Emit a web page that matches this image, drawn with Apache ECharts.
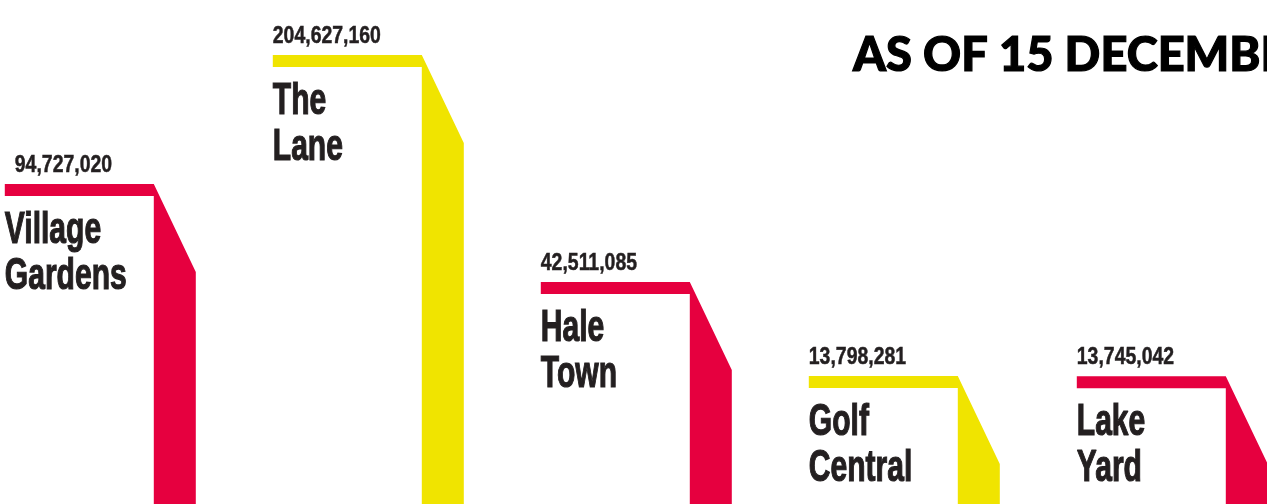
<!DOCTYPE html>
<html>
<head>
<meta charset="utf-8">
<script src="https://cdn.jsdelivr.net/npm/echarts@6/dist/echarts.min.js"></script>
<style>
html,body{margin:0;padding:0;background:#fff;}
#chart{width:1267px;height:504px;}
</style>
</head>
<body>
<div id="chart"></div>
<script>
// ---- data ----
const categories = ['Village Gardens', 'The Lane', 'Hale Town', 'Golf Central', 'Lake Yard'];
const values = [94727020, 204627160, 42511085, 13798281, 13745042];
const titleText = 'AS OF 15 DECEMBER';

// ---- style ----
const palette = ['#e6003f', '#f0e400'];
const textColor = '#231f20';
const FONT = '"Liberation Sans", Arial, sans-serif';
const EXP = 0.4; // power scale exponent used for bar heights

const chart = echarts.init(document.getElementById('chart'), null, {renderer: 'canvas'});

function fmt(v) { return v.toLocaleString('en-US'); }

const option = {
  backgroundColor: '#ffffff',
  animation: false,
  title: {
    text: titleText,
    left: 848,
    top: 27,
    textStyle: {fontFamily: 'Lato', fontWeight: 900, fontSize: 47, color: '#000000',
      textBorderColor: '#000000', textBorderWidth: 1.2}
  },
  grid: {left: 153.8, right: 41.2, top: 0, bottom: 0},
  xAxis: {type: 'category', data: categories, boundaryGap: false, show: false},
  yAxis: {type: 'value', min: 0.646, max: 9.352, show: false},
  series: [{
    type: 'custom',
    clip: false,
    data: values.map((v, i) => [i, Math.pow(v / 1e6, EXP), v]),
    encode: {x: 0, y: 1},
    renderItem: function (params, api) {
      const i = api.value(0);
      const v = api.value(2);
      const pt = api.coord([i, api.value(1)]);
      const bx = pt[0], top = pt[1];
      const cs = params.coordSys;
      const bottom = cs.y + cs.height + 20;
      const stripLen = 149, stripH = 12, bandW = 42, slant = 88;
      const color = palette[i % 2];
      const left = bx - stripLen;
      const children = [{
        type: 'polygon',
        shape: {points: [
          [left, top], [bx, top], [bx + bandW, top + slant], [bx + bandW, bottom],
          [bx, bottom], [bx, top + stripH], [left, top + stripH]
        ]},
        style: {fill: color}
      }, {
        type: 'text',
        x: left + (i === 0 ? 10 : 0),
        y: top - 15 + 8,
        scaleX: 0.81,
        style: {text: fmt(v), x: 0, y: 0, fill: textColor,
          stroke: textColor, lineWidth: 0.5,
          font: 'bold 24px ' + FONT, textAlign: 'left', textVerticalAlign: 'bottom'}
      }];
      const lines = categories[i].split(' ');
      lines.forEach(function (ln, k) {
        children.push({
          type: 'text',
          x: left,
          y: top + 55 + 14 + k * 46,
          scaleX: 0.683,
          style: {text: ln, x: 0, y: 0, fill: textColor,
            stroke: textColor, lineWidth: 1.2,
            font: 'bold 44px ' + FONT, textAlign: 'left', textVerticalAlign: 'bottom'}
        });
      });
      return {type: 'group', children: children};
    }
  }]
};
chart.setOption(option);
</script>
</body>
</html>
